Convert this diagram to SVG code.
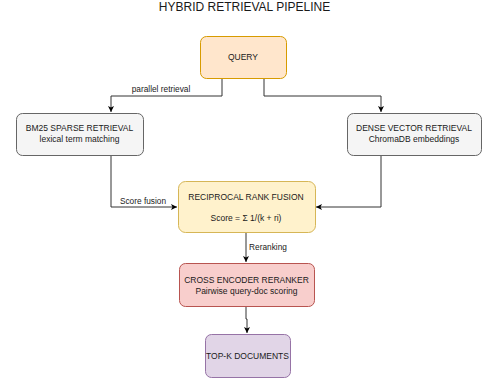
<svg xmlns="http://www.w3.org/2000/svg" width="482" height="381" viewBox="0 0 482 381">
<style>
text{font-family:"Liberation Sans",Arial,sans-serif;fill:#1a1a1a;text-anchor:middle}
.t{font-size:8.5px}
.l{font-size:8.3px}
.box{stroke-width:1}
.e{fill:none;stroke:#333333;stroke-width:1}
</style>
<defs>
<marker id="a" markerWidth="8" markerHeight="8" refX="6" refY="3" orient="auto" markerUnits="userSpaceOnUse" viewBox="0 0 8 6">
<path d="M0,0 L6,3 L0,6 L1.5,3 z" fill="#000"/>
</marker>
</defs>
<rect width="482" height="381" fill="#ffffff"/>
<text x="244.5" y="10.5" style="font-size:12px">HYBRID RETRIEVAL PIPELINE</text>
<g id="edges">
<path class="e" d="M222,78 V96 H111 V112" marker-end="url(#a)"/>
<text class="l" x="161" y="92">parallel retrieval</text>
<path class="e" d="M264,78 V96 H381 V112" marker-end="url(#a)"/>
<path class="e" d="M111,155 V207 H177" marker-end="url(#a)"/>
<text class="l" x="143" y="204">Score fusion</text>
<path class="e" d="M381,155 V207 H316" marker-end="url(#a)"/>
<path class="e" d="M246,232 V262" marker-end="url(#a)"/>
<text class="l" x="268" y="250">Reranking</text>
<path class="e" d="M246,306 V319 H247 V333" marker-end="url(#a)"/>
</g>
<g id="query">
<rect class="box" x="200.5" y="36.5" width="86" height="42" rx="6" fill="#ffe6cc" stroke="#d79b00"/>
<text class="t" x="243" y="60">QUERY</text>
</g>
<g id="bm25">
<rect class="box" x="16.5" y="113.5" width="127" height="42" rx="6" fill="#f5f5f5" stroke="#666666"/>
<text class="t" x="79.5" y="131">BM25 SPARSE RETRIEVAL</text>
<text class="t" x="79.5" y="142">lexical term matching</text>
</g>
<g id="dense">
<rect class="box" x="347.5" y="113.5" width="134" height="42" rx="6" fill="#f5f5f5" stroke="#666666"/>
<text class="t" x="414" y="131">DENSE VECTOR RETRIEVAL</text>
<text class="t" x="414" y="142">ChromaDB embeddings</text>
</g>
<g id="rrf">
<rect class="box" x="178.5" y="181.5" width="137" height="51" rx="7" fill="#fff2cc" stroke="#d6b656"/>
<text class="t" x="246" y="200">RECIPROCAL RANK FUSION</text>
<text class="t" x="246" y="221">Score = Σ 1/(k + ri)</text>
</g>
<g id="reranker">
<rect class="box" x="179.5" y="263.5" width="135" height="43" rx="6" fill="#f8cecc" stroke="#b85450"/>
<text class="t" x="246.5" y="283">CROSS ENCODER RERANKER</text>
<text class="t" x="246.5" y="294">Pairwise query-doc scoring</text>
</g>
<g id="topk">
<rect class="box" x="205.5" y="334.5" width="85" height="43" rx="6" fill="#e1d5e7" stroke="#9673a6"/>
<text class="t" x="247.5" y="359">TOP-K DOCUMENTS</text>
</g>
</svg>
